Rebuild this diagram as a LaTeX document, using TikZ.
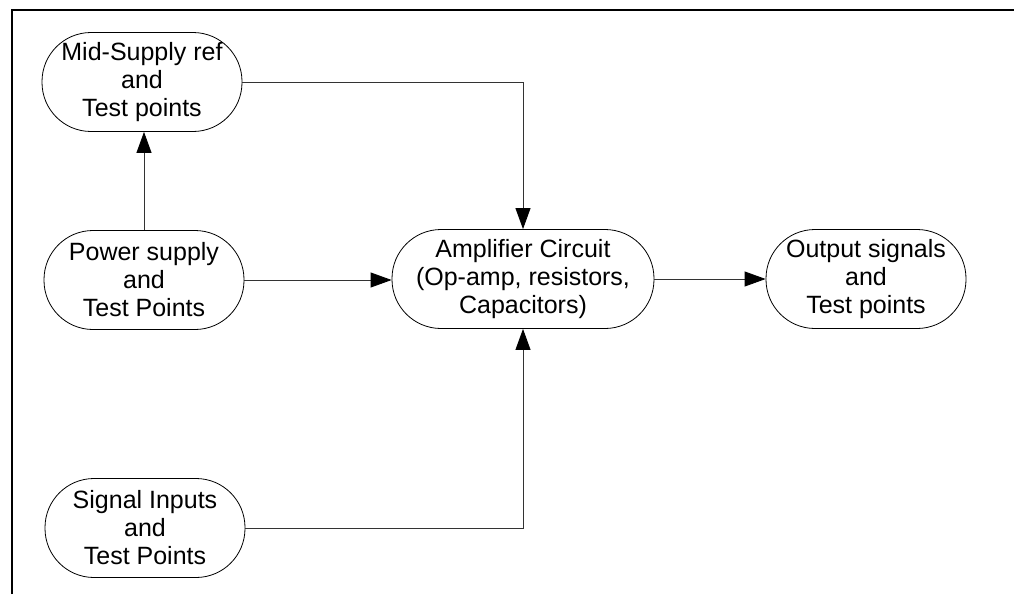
\documentclass[tikz,border=0pt]{standalone}
\usepackage{fontspec}
\setmainfont{Liberation Sans}
\usetikzlibrary{arrows.meta}

\tikzset{
  block/.style={draw, line width=0.8pt, rounded corners=49pt, minimum width=200pt, minimum height=99pt, align=center, inner sep=0pt, font=\fontsize{25}{28}\selectfont},
  link/.style={line width=0.8pt, draw=black!80, -{Triangle[length=21pt,width=15pt,black]}}
}

\begin{document}
\begin{tikzpicture}[x=1pt,y=1pt,yscale=-1,xscale=1]
\useasboundingbox (0,0) rectangle (1014,594);

%Frame
\draw [line width=2pt]  (12,594) -- (12,10) -- (1014,10) ;

% Text Node
\node [block] (mid) at (142,82) {Mid-Supply ref\\and\\Test points};
% Text Node
\node [block] (power) at (144,280) {Power supply\\and\\Test Points};
% Text Node
\node [block] (signal) at (145,528) {Signal Inputs\\and\\Test Points};
% Text Node
\node [block, minimum width=262pt] (amp) at (523,279) {Amplifier Circuit\\(Op-amp, resistors,\\Capacitors)};
% Text Node
\node [block] (out) at (866,279) {Output signals\\and\\Test points};

%Straight Lines
\draw [link]  (power.north) -- (power.north |- mid.south) ;
\draw [link]  (mid.east) -| (amp.north) ;
\draw [link]  (power.east) -- (power.east -| amp.west) ;
\draw [link]  (signal.east) -| (amp.south) ;
\draw [link]  (amp.east) -- (out.west) ;

\end{tikzpicture}
\end{document}
